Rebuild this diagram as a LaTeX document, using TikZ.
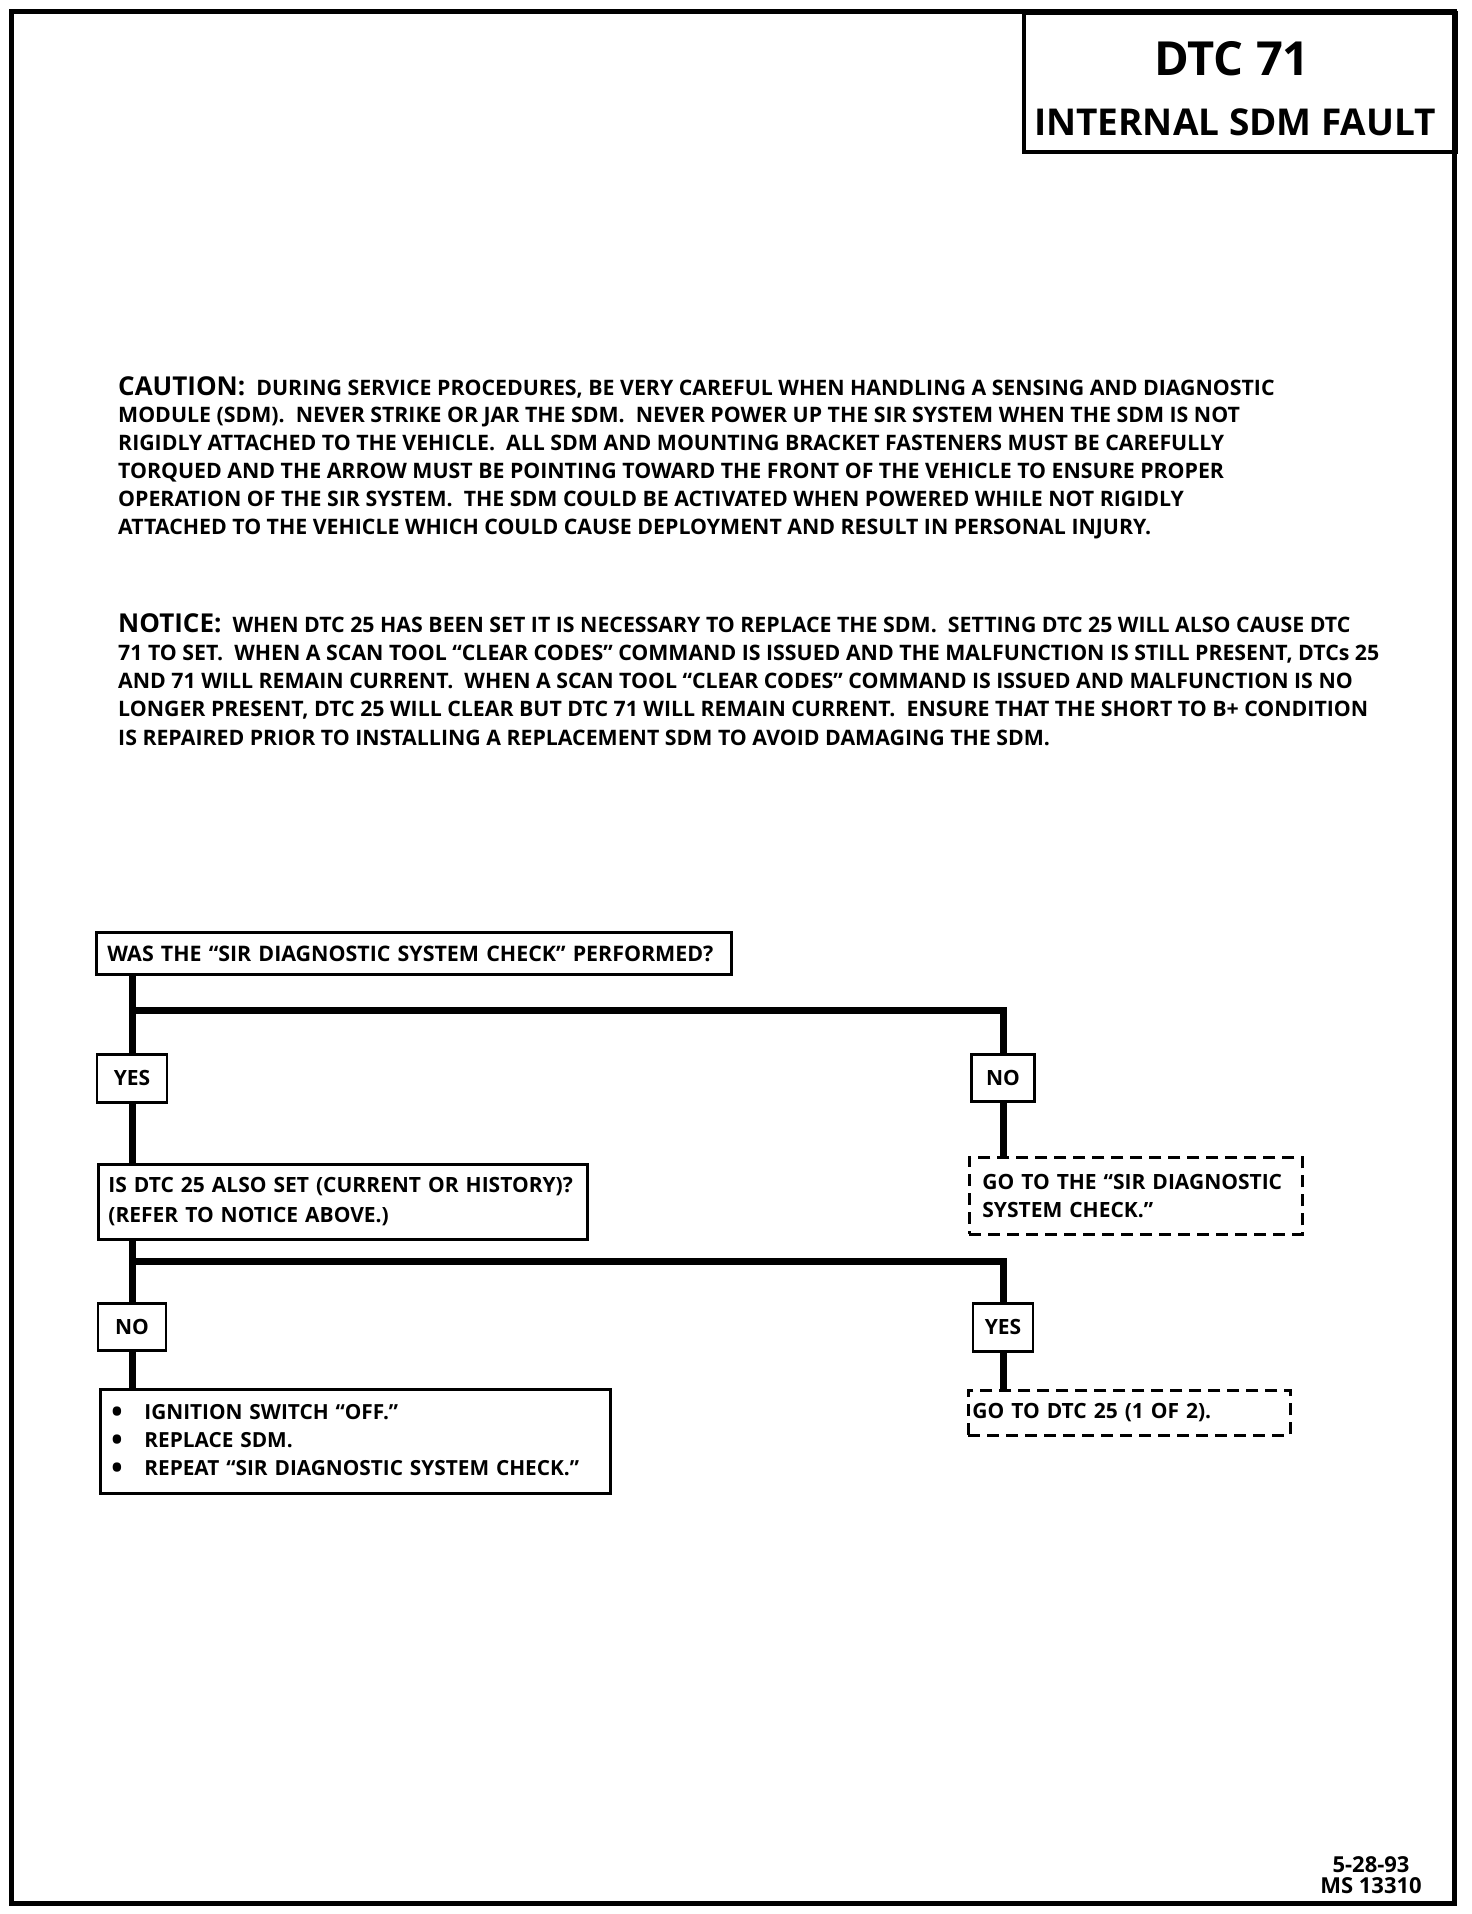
\documentclass[tikz,border=0pt]{standalone}
\usepackage{fontspec}
\setmainfont{Open Sans}
\usetikzlibrary{positioning}

\newcommand{\sdmbullet}{\makebox[33pt][l]{\raisebox{-3pt}{\fontsize{30}{28}\selectfont\textbullet}}}

\begin{document}
\begin{tikzpicture}[x=1pt, y=-1pt, font=\bfseries,
  bodyline/.style={anchor=base west, inner sep=0pt, font=\bfseries\fontsize{21.3}{24}\selectfont},
  stepbox/.style={draw, line width=2.8pt, anchor=north west, align=left, inner xsep=11pt,
                  inner ysep=0pt, font=\bfseries\fontsize{21}{29}\selectfont},
  goto/.style={stepbox, dash pattern=on 12pt off 7pt},
  answer/.style={draw, line width=2.8pt, anchor=north, inner sep=0pt, align=center,
                 font=\bfseries\fontsize{21}{26}\selectfont},
  flow/.style={line width=7pt},
]
  \useasboundingbox (0,0) rectangle (1472,1914);
  \draw[line width=5pt] (11,11) rectangle (1454,1903);

  % title block
  \node[draw, line width=3.5pt, anchor=north west, minimum width=432, minimum height=139,
        inner sep=0pt] (titlebox) at (1022,11) {};
  \node[font=\bfseries\fontsize{47}{50}\selectfont] (dtc) at (1232,59) {DTC 71};
  \node[font=\bfseries\fontsize{37}{40}\selectfont] (fault) at (1235,122) {INTERNAL SDM FAULT};

  % caution and notice
  \foreach \ln/\ltxt in {%
    0/{{\fontsize{26}{26}\selectfont CAUTION:}\ \ DURING SERVICE PROCEDURES, BE VERY CAREFUL WHEN HANDLING A SENSING AND DIAGNOSTIC},%
    1/{MODULE (SDM).\ \ NEVER STRIKE OR JAR THE SDM.\ \ NEVER POWER UP THE SIR SYSTEM WHEN THE SDM IS NOT},%
    2/{RIGIDLY ATTACHED TO THE VEHICLE.\ \ ALL SDM AND MOUNTING BRACKET FASTENERS MUST BE CAREFULLY},%
    3/{TORQUED AND THE ARROW MUST BE POINTING TOWARD THE FRONT OF THE VEHICLE TO ENSURE PROPER},%
    4/{OPERATION OF THE SIR SYSTEM.\ \ THE SDM COULD BE ACTIVATED WHEN POWERED WHILE NOT RIGIDLY},%
    5/{ATTACHED TO THE VEHICLE WHICH COULD CAUSE DEPLOYMENT AND RESULT IN PERSONAL INJURY.}%
  } {
    \node[bodyline] (caut\ln) at (118,{395+27.8*\ln}) {\ltxt};
  }
  \foreach \ln/\ltxt in {%
    0/{{\fontsize{26}{26}\selectfont NOTICE:}\ \ WHEN DTC 25 HAS BEEN SET IT IS NECESSARY TO REPLACE THE SDM.\ \ SETTING DTC 25 WILL ALSO CAUSE DTC},%
    1/{71 TO SET.\ \ WHEN A SCAN TOOL ``CLEAR CODES'' COMMAND IS ISSUED AND THE MALFUNCTION IS STILL PRESENT, DTCs 25},%
    2/{AND 71 WILL REMAIN CURRENT.\ \ WHEN A SCAN TOOL ``CLEAR CODES'' COMMAND IS ISSUED AND MALFUNCTION IS NO},%
    3/{LONGER PRESENT, DTC 25 WILL CLEAR BUT DTC 71 WILL REMAIN CURRENT.\ \ ENSURE THAT THE SHORT TO B+ CONDITION},%
    4/{IS REPAIRED PRIOR TO INSTALLING A REPLACEMENT SDM TO AVOID DAMAGING THE SDM.}%
  } {
    \node[bodyline] (note\ln) at (118,{632+28.25*\ln}) {\ltxt};
  }

  % flow chart
  \node[stepbox, minimum width=635, minimum height=42, text width=613,
        font=\bfseries\fontsize{21.4}{29}\selectfont] (sirdone) at (95,931)
    {\mbox{WAS THE ``SIR DIAGNOSTIC SYSTEM CHECK'' PERFORMED?}};
  \node[answer, minimum width=70, minimum height=48] (yes1) at (132,1053) {YES};
  \node[answer, minimum width=63, minimum height=47] (no1) at (1003,1053) {NO};
  \node[goto, minimum width=333, minimum height=77, text width=307, inner xsep=13pt,
        font=\bfseries\fontsize{21}{28}\selectfont] (gosir) at (968,1156)
    {\mbox{GO TO THE ``SIR DIAGNOSTIC}\\\mbox{SYSTEM CHECK.''}};
  \node[stepbox, minimum width=489, minimum height=75, text width=469, inner xsep=10pt,
        font=\bfseries\fontsize{21}{30}\selectfont] (dtcset) at (97,1163)
    {\mbox{IS DTC 25 ALSO SET (CURRENT OR HISTORY)?}\\\mbox{(REFER TO NOTICE ABOVE.)}};
  \node[answer, minimum width=68, minimum height=47] (no2) at (132,1302) {NO};
  \node[answer, minimum width=60, minimum height=48] (yes2) at (1003,1302) {YES};
  \node[stepbox, minimum width=510, minimum height=104, text width=488,
        font=\bfseries\fontsize{20.8}{28}\selectfont] (fixsdm) at (99,1388)
    {\sdmbullet\mbox{IGNITION SWITCH ``OFF.''}\\
     \sdmbullet\mbox{REPLACE SDM.}\\
     \sdmbullet\mbox{REPEAT ``SIR DIAGNOSTIC SYSTEM CHECK.''}};
  \node[goto, minimum width=322, minimum height=45, text width=314, inner xsep=4pt] (go25) at (967,1389)
    {\mbox{GO TO DTC 25 (1 OF 2).}};

  \coordinate (sirsplit) at (yes1.north |- 0,1010);
  \coordinate (dtcsplit) at (no2.north |- 0,1261);
  \draw[flow] (yes1.north |- sirdone.south) -- (yes1.north);
  \draw[flow] (sirsplit) -| (no1.north);
  \draw[flow] (no1.south) -- (no1.south |- gosir.north);
  \draw[flow] (yes1.south) -- (yes1.south |- dtcset.north);
  \draw[flow] (no2.north |- dtcset.south) -- (no2.north);
  \draw[flow] (dtcsplit) -| (yes2.north);
  \draw[flow] (no2.south) -- (no2.south |- fixsdm.north);
  \draw[flow] (yes2.south) -- (yes2.south |- go25.north);

  % sheet number
  \node[anchor=base, inner sep=0pt, align=center, font=\bfseries\fontsize{22}{21}\selectfont] (sheet) at (1371,1893)
    {5-28-93\\MS 13310};
\end{tikzpicture}
\end{document}
